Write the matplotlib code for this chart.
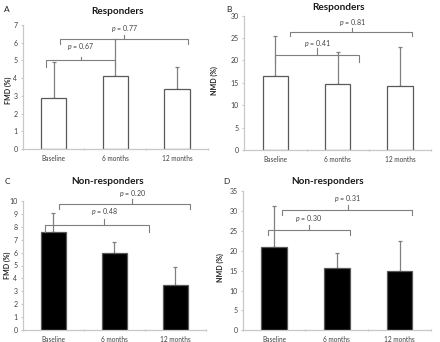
import matplotlib
matplotlib.use("Agg")
import matplotlib.pyplot as plt
import numpy as np

plt.rcParams["font.family"] = ["Lato", "DejaVu Sans"]
plt.rcParams["mathtext.fontset"] = "custom"
plt.rcParams["mathtext.it"] = "Lato:italic"
plt.rcParams["mathtext.rm"] = "Lato"

categories = ["Baseline", "6 months", "12 months"]

# Panel A: Responders FMD
a_mean = [2.9, 4.1, 3.4]
a_top = [4.9, 6.2, 4.65]
# Panel B: Responders NMD
b_mean = [16.5, 14.7, 14.4]
b_top = [25.5, 22.0, 23.0]
# Panel C: Non-responders FMD
c_mean = [7.6, 6.0, 3.5]
c_top = [9.1, 6.8, 4.9]
# Panel D: Non-responders NMD
d_mean = [21.0, 15.7, 14.9]
d_top = [31.2, 19.5, 22.4]

p_labels = {"A": ["0.67", "0.77"], "B": ["0.41", "0.81"],
            "C": ["0.48", "0.20"], "D": ["0.30", "0.31"]}

W, H = 440, 342
fig = plt.figure(figsize=(W / 100, H / 100), dpi=100)
fig.patch.set_facecolor("white")

spine_c = "#c8c8c8"
edge_c = "#595959"
err_c = "#808080"
br_c = "#7f7f7f"
txt_c = "#404040"

def px_axes(l, r, b, t):
    return fig.add_axes([l / W, (H - b) / H, (r - l) / W, (b - t) / H])

def bracket(ax, x0, x1, y, yend, xm, ytop, ytext, label):
    ax.plot([x0, x0, x1, x1], [yend, y, y, yend], color=br_c, lw=0.8,
            solid_joinstyle="miter", clip_on=False)
    ax.plot([xm, xm], [y, ytop], color=br_c, lw=0.8, clip_on=False)
    ax.text(xm, ytext, "$p$ = " + label, ha="center", va="center",
            fontsize=5, color=txt_c, clip_on=False)

def panel(ax, mean, top, ymax, ystep, fill, ylabel, lab_x, lab_y):
    x = np.arange(len(categories))
    err = np.array(top) - np.array(mean)
    ax.bar(x, mean, width=0.41, color=fill, edgecolor=edge_c, linewidth=0.9, zorder=2)
    ax.errorbar(x, mean, yerr=[np.zeros(len(x)), err], fmt="none",
                ecolor=err_c, elinewidth=0.9, capsize=1.6, capthick=0.9, zorder=1)
    ax.set_xlim(-0.5, 2.5)
    ax.set_ylim(0, ymax)
    ax.set_yticks(np.arange(0, ymax + 0.01, ystep))
    ax.set_xticks([-0.5, 0.5, 1.5, 2.5])
    ax.set_xticklabels([])
    ax.set_xticks(x, minor=True)
    ax.set_xticklabels(categories, minor=True)
    ax.tick_params(axis="x", which="minor", length=0, labelsize=4.7, colors=txt_c, pad=4)
    ax.tick_params(axis="x", which="major", length=2, direction="inout", color=spine_c)
    ax.tick_params(axis="y", length=1.8, color=spine_c, labelsize=5, labelcolor=txt_c, pad=2)
    for s in ["top", "right"]:
        ax.spines[s].set_visible(False)
    for s in ["left", "bottom"]:
        ax.spines[s].set_color(spine_c)
        ax.spines[s].set_linewidth(0.9)
    ax.set_ylabel(ylabel, fontsize=5, fontweight="bold", color="#202020")
    ax.yaxis.set_label_coords(lab_x, lab_y)
    ax.set_facecolor("none")

axA = px_axes(22.7, 208, 149, 25)
panel(axA, a_mean, a_top, 7, 1, "white", "FMD (%)", -0.059, 0.47)
bracket(axA, -0.12, 1.0, 5.0, 4.65, 0.44, 5.22, 5.8, p_labels["A"][0])
bracket(axA, 0.10, 2.17, 6.2, 5.95, 1.14, 6.45, 6.8, p_labels["A"][1])

axB = px_axes(244.3, 431, 150, 15.7)
panel(axB, b_mean, b_top, 30, 5, "white", "NMD (%)", -0.141, 0.52)
bracket(axB, -0.01, 1.34, 21.3, 19.6, 0.67, 22.7, 23.7, p_labels["B"][0])
bracket(axB, 0.24, 2.19, 26.3, 25.5, 1.23, 27.2, 28.4, p_labels["B"][1])

axC = px_axes(22.7, 206, 330, 201)
panel(axC, c_mean, c_top, 10, 1, "black", "FMD (%)", -0.064, 0.5)
bracket(axC, -0.13, 1.56, 8.14, 7.6, 0.83, 8.58, 9.17, p_labels["C"][0])
bracket(axC, 0.10, 2.23, 9.79, 9.35, 1.29, 10.18, 10.57, p_labels["C"][1])

axD = px_axes(242.7, 431, 330.3, 191)
panel(axD, d_mean, d_top, 35, 5, "black", "NMD (%)", -0.099, 0.45)
bracket(axD, -0.1, 1.21, 25.2, 23.9, 0.55, 26.4, 28.2, p_labels["D"][0])
bracket(axD, 0.13, 2.2, 30.15, 28.9, 1.17, 31.4, 33.2, p_labels["D"][1])

def ftext(x, y, s, **kw):
    fig.text(x / W, 1 - y / H, s, ha="center", va="center", **kw)

ftext(117.5, 11, "Responders", fontsize=7.2, fontweight="bold", color="#1a1a1a")
ftext(338, 8, "Responders", fontsize=7.2, fontweight="bold", color="#1a1a1a")
ftext(108, 182, "Non-responders", fontsize=7.2, fontweight="bold", color="#1a1a1a")
ftext(328, 181, "Non-responders", fontsize=7.2, fontweight="bold", color="#1a1a1a")
ftext(7, 10, "A", fontsize=6, color="#202020")
ftext(229, 10, "B", fontsize=6, color="#202020")
ftext(7, 181, "C", fontsize=6, color="#202020")
ftext(226, 181, "D", fontsize=6, color="#202020")

fig.savefig("out.png", dpi=100, facecolor="white")
